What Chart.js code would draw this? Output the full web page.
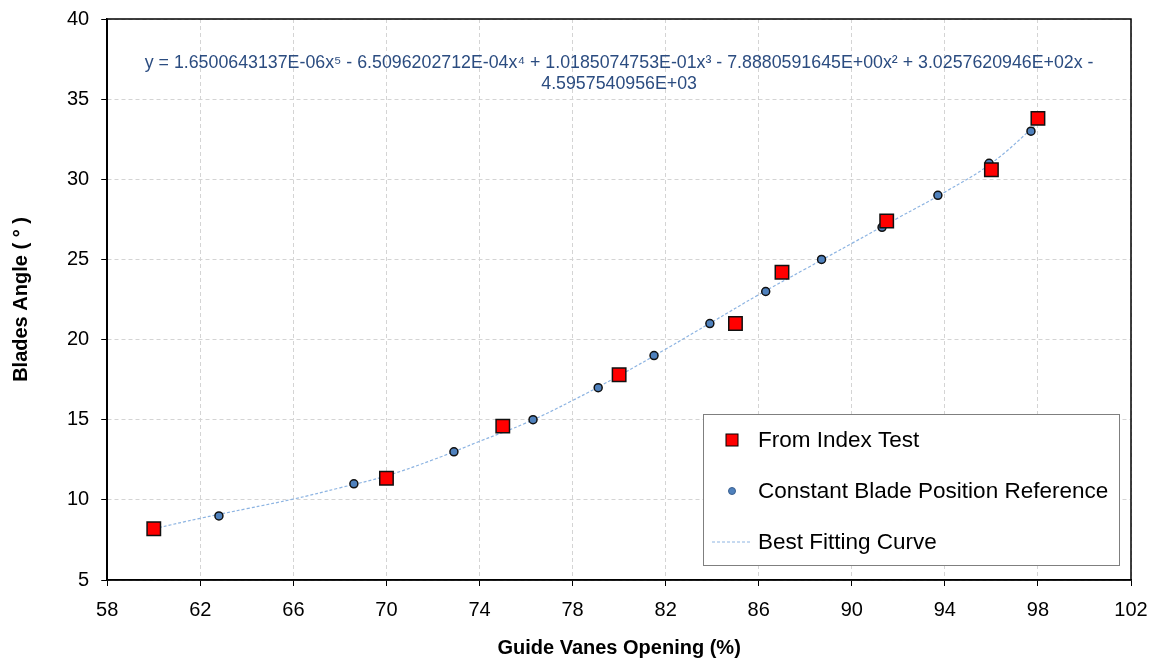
<!DOCTYPE html>
<html lang="en">
<head>
    <meta charset="UTF-8">
    <title>Blades Angle vs Guide Vanes Opening</title>
    <script src="https://cdn.jsdelivr.net/npm/chart.js"></script>
    <style>
        body {
            margin: 0;
            background-color: #fff;
        }
        .chart-container {
            width: 1157px;
            height: 663px;
        }
    </style>
</head>
<body>

    <div class="chart-container">
        <canvas id="bladesChart" width="1157" height="663"></canvas>
    </div>

    <script>
        // --- Data ---
        // Index test (red squares)
        const indexTestX = [60, 70, 75, 80, 85, 87, 91.5, 96, 98];
        const indexTestY = [8.2, 11.35, 14.6, 17.8, 21.0, 24.2, 27.4, 30.6, 33.8];

        // Constant blade position reference (blue dots)
        const referenceX = [62.8, 68.6, 72.9, 76.3, 79.1, 81.5, 83.9, 86.3, 88.7, 91.3, 93.7, 95.9, 97.7];
        const referenceY = [9, 11, 13, 15, 17, 19, 21, 23, 25, 27, 29, 31, 33];

        // Best fitting curve
        const curveX = [60, 62, 64, 66, 68, 70, 72, 74, 76, 78, 80, 82, 84, 86, 88, 90, 92, 94, 96, 98];
        const curveY = [8.2, 8.85, 9.45, 10.05, 10.75, 11.5, 12.5, 13.65, 14.8, 16.2, 17.75, 19.4, 21.1, 22.8, 24.4, 26.0, 27.6, 29.2, 31.0, 33.5];

        // Axis ranges
        const xTicksMin = 58, xTicksMax = 102, xStep = 4;
        const yTicksMin = 5, yTicksMax = 40, yStep = 5;

        const equationLines = [
            'y = 1.6500643137E-06x\u2075 - 6.5096202712E-04x\u2074 + 1.0185074753E-01x\u00B3 - 7.8880591645E+00x\u00B2 + 3.0257620946E+02x -',
            '4.5957540956E+03'
        ];

        const legendLabels = ['From Index Test', 'Constant Blade Position Reference', 'Best Fitting Curve'];

        const toPoints = (xs, ys) => xs.map((x, i) => ({ x: x, y: ys[i] }));

        const FONT = "'Liberation Sans', Arial, sans-serif";

        // --- Plugins ---
        // plot area frame
        const frameplugin = {
            id: 'frame',
            beforeDatasetsDraw(chart) {
                const { ctx, chartArea: a } = chart;
                ctx.save();
                ctx.strokeStyle = '#000';
                ctx.lineWidth = 1.5;
                ctx.strokeRect(a.left, a.top, a.right - a.left, a.bottom - a.top);
                ctx.restore();
            }
        };

        // trendline equation inside the plot
        const equationPlugin = {
            id: 'equation',
            afterDatasetsDraw(chart) {
                const { ctx, chartArea: a } = chart;
                const cx = (a.left + a.right) / 2;
                ctx.save();
                ctx.fillStyle = '#2B4C80';
                ctx.font = '17.8px ' + FONT;
                ctx.textAlign = 'center';
                ctx.textBaseline = 'middle';
                ctx.fillText(equationLines[0], cx, a.top + 44);
                ctx.fillText(equationLines[1], cx, a.top + 65);
                ctx.restore();
            }
        };

        // boxed legend in the lower right of the plot
        const boxLegend = {
            id: 'boxLegend',
            afterDatasetsDraw(chart) {
                const { ctx, chartArea: a } = chart;
                const left = a.right - 428, top = a.bottom - 166;
                const w = 416, h = 151;
                ctx.save();
                ctx.fillStyle = '#fff';
                ctx.fillRect(left, top, w, h);
                ctx.strokeStyle = '#7f7f7f';
                ctx.lineWidth = 1;
                ctx.strokeRect(left + 0.5, top + 0.5, w, h);

                const mx = left + 29, tx = left + 55;
                const rows = [top + 26, top + 77, top + 128];
                ctx.font = '22.5px ' + FONT;
                ctx.textBaseline = 'middle';

                // square
                ctx.fillStyle = '#FF0000';
                ctx.strokeStyle = '#000';
                ctx.lineWidth = 1;
                ctx.fillRect(mx - 6, rows[0] - 6, 12, 12);
                ctx.strokeRect(mx - 6, rows[0] - 6, 12, 12);
                // dot
                ctx.beginPath();
                ctx.arc(mx, rows[1], 3.5, 0, Math.PI * 2);
                ctx.fillStyle = '#4F81BD';
                ctx.fill();
                ctx.strokeStyle = '#3a5f8f';
                ctx.stroke();
                // dashed line
                ctx.beginPath();
                ctx.setLineDash([3, 2]);
                ctx.strokeStyle = '#8DB4E2';
                ctx.moveTo(left + 9, rows[2]);
                ctx.lineTo(left + 49, rows[2]);
                ctx.stroke();
                ctx.setLineDash([]);

                ctx.fillStyle = '#000';
                legendLabels.forEach((t, i) => ctx.fillText(t, tx, rows[i] + 1));
                ctx.restore();
            }
        };

        // --- Chart Configuration ---
        const config = {
            type: 'scatter',
            data: {
                datasets: [
                    {
                        label: legendLabels[2],
                        data: toPoints(curveX, curveY),
                        showLine: true,
                        borderColor: '#8DB4E2',
                        borderWidth: 1.2,
                        borderDash: [3, 2],
                        pointRadius: 0,
                        tension: 0.4,
                        order: 3
                    },
                    {
                        label: legendLabels[1],
                        data: toPoints(referenceX, referenceY),
                        pointStyle: 'circle',
                        pointRadius: 4,
                        backgroundColor: '#4F81BD',
                        borderColor: '#111',
                        borderWidth: 1.5,
                        order: 2
                    },
                    {
                        label: legendLabels[0],
                        data: toPoints(indexTestX, indexTestY),
                        pointStyle: 'rect',
                        pointRadius: 9.5,
                        backgroundColor: '#FF0000',
                        borderColor: '#111',
                        borderWidth: 1.5,
                        order: 1
                    }
                ]
            },
            options: {
                responsive: false,
                animation: false,
                events: [],
                layout: {
                    padding: { top: 19, right: 26, left: 9, bottom: 3 }
                },
                plugins: {
                    legend: { display: false },
                    tooltip: { enabled: false }
                },
                scales: {
                    x: {
                        type: 'linear',
                        min: xTicksMin,
                        max: xTicksMax,
                        afterFit(scale) {
                            // let layout padding decide the side gaps
                            scale.paddingLeft = 0;
                            scale.paddingRight = 0;
                        },
                        ticks: {
                            stepSize: xStep,
                            color: '#000',
                            font: { family: FONT, size: 20 },
                            padding: 12,
                            maxRotation: 0
                        },
                        grid: {
                            color: '#d4d4d4',
                            tickColor: '#000',
                            tickLength: 6,
                            tickBorderDash: []
                        },
                        border: { color: '#000', width: 1.5, dash: [4, 3] },
                        title: {
                            display: true,
                            text: 'Guide Vanes Opening (%)',
                            color: '#000',
                            font: { family: FONT, size: 20, weight: 'bold' },
                            padding: { top: 2, bottom: 0 }
                        }
                    },
                    y: {
                        type: 'linear',
                        min: yTicksMin,
                        max: yTicksMax,
                        afterFit(scale) {
                            scale.paddingTop = 0;
                            scale.paddingBottom = 0;
                        },
                        ticks: {
                            stepSize: yStep,
                            color: '#000',
                            font: { family: FONT, size: 20 },
                            padding: 12
                        },
                        grid: {
                            color: '#d4d4d4',
                            tickColor: '#000',
                            tickLength: 6,
                            tickBorderDash: []
                        },
                        border: { color: '#000', width: 1.5, dash: [4, 3] },
                        title: {
                            display: true,
                            text: 'Blades Angle ( \u00B0 )',
                            color: '#000',
                            font: { family: FONT, size: 20, weight: 'bold' },
                            padding: { top: 0, bottom: 22 }
                        }
                    }
                }
            },
            plugins: [frameplugin, equationPlugin, boxLegend]
        };

        // --- Render Chart ---
        const ctx = document.getElementById('bladesChart').getContext('2d');
        new Chart(ctx, config);
    </script>

</body>
</html>
